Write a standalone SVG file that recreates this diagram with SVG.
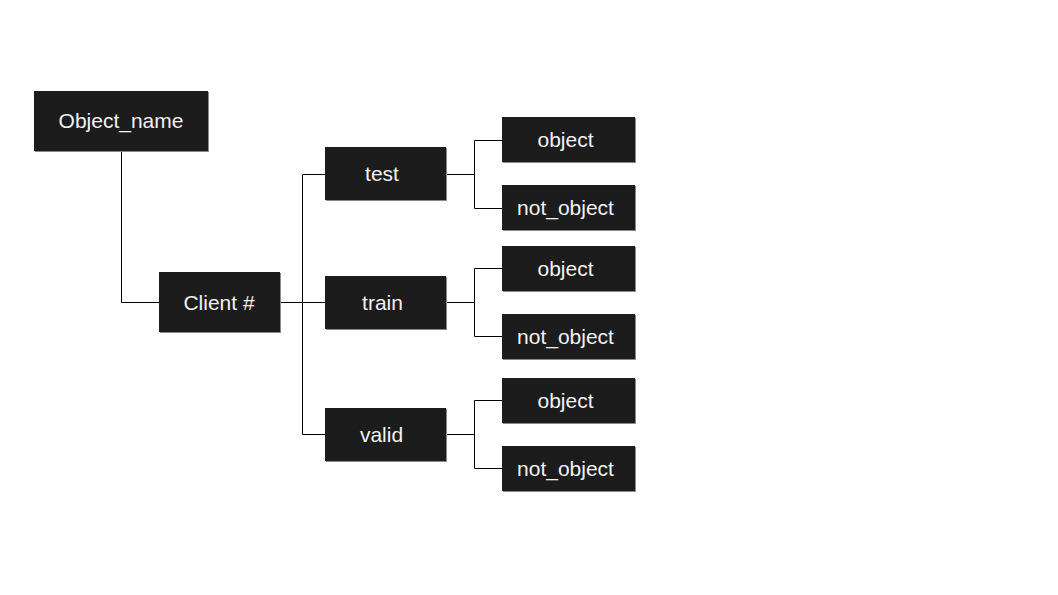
<svg xmlns="http://www.w3.org/2000/svg" width="1058" height="595" viewBox="0 0 1058 595">
<style>
.sh{fill:#8a8a8a}
.bx{fill:#1c1c1c}
.t{font-family:"Liberation Sans",Arial,sans-serif;font-size:21px;fill:#f2f2f2;text-anchor:middle;dominant-baseline:central}
.c{fill:none;stroke:#000;stroke-width:1}
</style>
<rect width="1058" height="595" fill="#fff"/>
<g id="connectors">
<path class="c" d="M121.5 151V302.5H159"/>
<path class="c" d="M280 302.5H325M302.5 174.5V434.5M302.5 174.5H325M302.5 434.5H325"/>
<path class="c" d="M446 174.5H474.5M474.5 140.5V208.5M474.5 140.5H502M474.5 208.5H502"/>
<path class="c" d="M446 302.5H474.5M474.5 268.5V336.5M474.5 268.5H502M474.5 336.5H502"/>
<path class="c" d="M446 434.5H474.5M474.5 400.5V468.5M474.5 400.5H502M474.5 468.5H502"/>
</g>
<g id="n_object_name"><rect class="sh" x="35" y="92" width="174" height="60"/><rect class="bx" x="34" y="91" width="174" height="60"/><text class="t" x="121" y="120.5">Object_name</text></g>
<g id="n_client"><rect class="sh" x="160" y="273" width="121" height="60"/><rect class="bx" x="159" y="272" width="121" height="60"/><text class="t" x="219" y="302">Client #</text></g>
<g id="n_test"><rect class="sh" x="326" y="148" width="121" height="53"/><rect class="bx" x="325" y="147" width="121" height="53"/><text class="t" x="382" y="173.5">test</text></g>
<g id="n_train"><rect class="sh" x="326" y="277" width="121" height="53"/><rect class="bx" x="325" y="276" width="121" height="53"/><text class="t" x="382.5" y="302">train</text></g>
<g id="n_valid"><rect class="sh" x="326" y="409" width="121" height="53"/><rect class="bx" x="325" y="408" width="121" height="53"/><text class="t" x="381.5" y="434">valid</text></g>
<g id="n_test_object"><rect class="sh" x="503" y="118" width="133" height="45"/><rect class="bx" x="502" y="117" width="133" height="45"/><text class="t" x="565.5" y="139.5">object</text></g>
<g id="n_test_not_object"><rect class="sh" x="503" y="186" width="133" height="45"/><rect class="bx" x="502" y="185" width="133" height="45"/><text class="t" x="565.5" y="207.5">not_object</text></g>
<g id="n_train_object"><rect class="sh" x="503" y="247" width="133" height="45"/><rect class="bx" x="502" y="246" width="133" height="45"/><text class="t" x="565.5" y="268.5">object</text></g>
<g id="n_train_not_object"><rect class="sh" x="503" y="315" width="133" height="45"/><rect class="bx" x="502" y="314" width="133" height="45"/><text class="t" x="565.5" y="336.5">not_object</text></g>
<g id="n_valid_object"><rect class="sh" x="503" y="379" width="133" height="45"/><rect class="bx" x="502" y="378" width="133" height="45"/><text class="t" x="565.5" y="400.5">object</text></g>
<g id="n_valid_not_object"><rect class="sh" x="503" y="447" width="133" height="45"/><rect class="bx" x="502" y="446" width="133" height="45"/><text class="t" x="565.5" y="468.5">not_object</text></g>
</svg>
